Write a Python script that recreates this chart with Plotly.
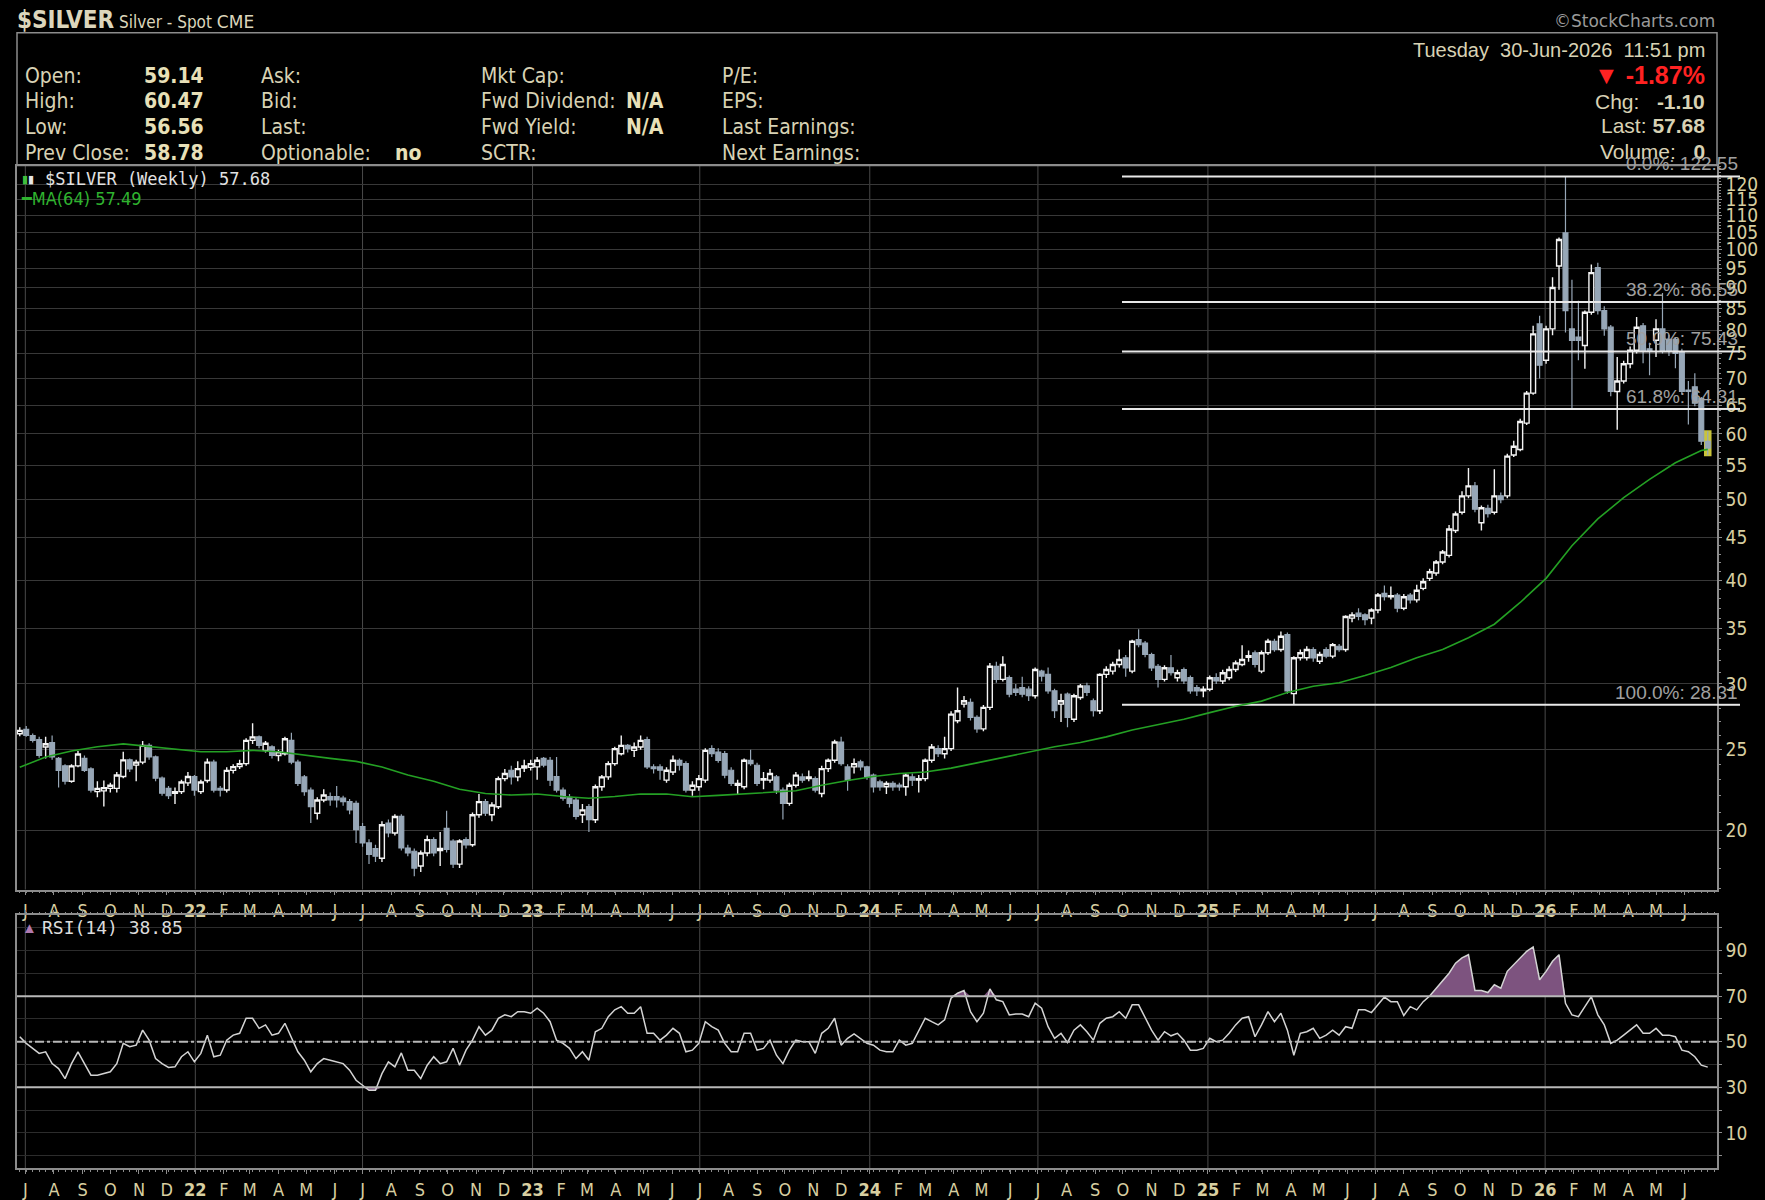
import math

import pandas as pd
import plotly.graph_objects as go

W, H = 1765, 1200
FRAME = "#8c8c8c"
GRID = "#383838"
KHAKI = "#d8cfa0"
TXT = "#d8d2b4"
VAL = "#e8e0b8"
NB = "\u00a0"
COND = "Liberation Sans Narrow, Arial Narrow, DejaVu Sans Condensed, sans-serif"
SANS = "Liberation Sans, Arial, sans-serif"
WIDE = "DejaVu Sans, Verdana, sans-serif"
MONO = "DejaVu Sans Mono, Liberation Mono, monospace"

# one bar per week (weekly $SILVER)
weeks = pd.date_range("2021-06-25", periods=262, freq="7D")

opens = [
    26.12, 26.45, 26.00, 25.70, 25.18, 25.50, 24.40, 23.90, 22.90, 23.90,
    24.40, 23.70, 22.25, 22.30, 22.45, 22.45, 23.20, 24.30, 23.95, 24.15,
    25.30, 24.50, 23.10, 22.45, 22.15, 22.25, 22.80, 23.20, 22.25, 22.95,
    24.15, 22.45, 22.35, 23.60, 23.85, 24.05, 25.65, 25.90, 24.95, 25.20,
    24.60, 24.72, 25.65, 24.15, 23.18, 22.35, 20.96, 21.74, 21.94, 21.94,
    21.85, 21.64, 21.54, 20.20, 19.30, 19.00, 18.50, 20.39, 19.84, 20.77,
    19.03, 18.86, 18.10, 18.77, 19.48, 18.90, 20.10, 19.40, 18.20, 19.48,
    19.20, 20.87, 21.64, 20.87, 21.34, 23.07, 23.61, 23.18, 23.75, 23.80,
    23.83, 24.40, 24.27, 23.20, 22.35, 21.90, 21.74, 20.87, 21.34, 20.58,
    22.55, 23.18, 24.05, 24.72, 25.30, 24.95, 25.18, 25.70, 23.83, 23.83,
    22.97, 23.50, 24.27, 24.05, 22.35, 22.55, 22.97, 25.07, 24.83, 24.72,
    23.61, 22.65, 22.55, 24.27, 23.94, 22.97, 22.97, 23.18, 22.35, 21.54,
    22.65, 23.18, 23.07, 23.07, 22.14, 23.72, 24.27, 25.53, 23.83, 23.83,
    24.16, 23.83, 23.29, 22.86, 22.55, 22.76, 22.65, 22.55, 23.18, 22.97,
    23.07, 24.27, 25.07, 24.72, 25.07, 27.09, 28.36, 28.50, 27.34, 26.48,
    28.11, 31.50, 30.38, 30.52, 29.56, 29.70, 29.56, 29.03, 31.08, 30.80,
    29.43, 28.36, 29.16, 27.20, 28.89, 29.83, 28.63, 27.85, 30.80, 31.08,
    31.66, 32.25, 31.08, 33.92, 33.60, 32.55, 31.50, 30.38, 31.37, 30.52,
    31.22, 30.52, 29.70, 29.43, 29.56, 30.52, 30.24, 30.52, 31.22, 31.66,
    32.30, 32.70, 31.08, 32.70, 33.76, 33.00, 34.39, 29.20, 32.25, 32.25,
    33.00, 31.95, 33.00, 32.40, 33.30, 33.00, 36.00, 36.50, 36.33, 36.00,
    36.83, 38.56, 38.20, 38.39, 37.00, 38.39, 37.87, 39.10, 40.20, 40.80,
    42.07, 42.85, 45.90, 48.30, 50.54, 51.95, 46.90, 48.80, 48.30, 50.54,
    50.54, 56.60, 57.47, 61.84, 67.20, 81.42, 73.60, 80.30, 95.60, 104.80,
    80.30, 78.50, 76.70, 84.10, 95.16, 84.46, 80.68, 67.50, 69.50, 72.90,
    75.67, 81.00, 76.00, 77.80, 80.30, 78.00, 78.00, 75.30, 67.78, 68.40,
    66.20, 58.78,
]
highs = [
    26.60, 26.70, 26.15, 25.90, 25.90, 26.00, 24.50, 24.00, 24.00, 24.90,
    24.60, 23.80, 22.90, 22.95, 22.80, 23.50, 24.85, 24.40, 24.30, 25.60,
    25.45, 24.60, 23.20, 22.60, 22.50, 23.00, 23.50, 23.30, 23.00, 24.40,
    24.30, 22.60, 23.80, 24.00, 24.30, 25.80, 26.90, 26.00, 25.60, 25.30,
    25.00, 25.90, 26.20, 24.30, 23.30, 22.50, 21.90, 22.40, 22.20, 22.60,
    22.00, 21.80, 21.70, 20.40, 19.50, 19.20, 20.50, 20.60, 20.90, 20.90,
    19.20, 19.00, 18.90, 19.70, 19.60, 19.90, 21.10, 19.50, 19.50, 19.60,
    21.00, 22.10, 21.80, 21.60, 23.20, 23.70, 23.90, 24.20, 24.30, 24.30,
    24.50, 24.50, 24.50, 24.50, 22.50, 22.10, 21.90, 21.50, 21.50, 22.70,
    23.30, 24.20, 25.20, 26.00, 25.40, 25.50, 26.00, 25.90, 24.00, 24.00,
    23.80, 24.60, 24.40, 24.20, 22.90, 23.30, 25.10, 25.30, 25.10, 24.90,
    23.80, 23.00, 24.40, 25.00, 24.10, 23.50, 23.70, 23.30, 22.50, 22.80,
    23.50, 23.40, 23.60, 23.20, 23.90, 24.40, 25.70, 25.90, 24.00, 24.40,
    24.30, 23.90, 23.40, 23.00, 22.90, 22.90, 22.80, 23.40, 23.40, 23.30,
    24.40, 25.40, 25.30, 25.90, 27.80, 29.70, 29.00, 28.80, 27.50, 28.30,
    31.80, 31.90, 32.40, 30.70, 30.00, 30.60, 29.80, 31.40, 31.20, 31.40,
    29.60, 29.20, 29.30, 29.20, 30.00, 30.10, 28.80, 30.90, 31.50, 31.90,
    33.00, 32.50, 33.90, 34.90, 33.80, 32.70, 31.70, 31.60, 32.50, 31.20,
    31.40, 30.70, 29.90, 29.80, 30.70, 30.90, 31.20, 31.50, 32.00, 33.40,
    32.90, 32.90, 32.90, 34.00, 34.00, 34.70, 34.60, 32.40, 33.00, 33.30,
    33.20, 32.80, 33.20, 33.60, 33.50, 36.30, 36.60, 37.00, 36.50, 37.00,
    38.60, 39.40, 39.30, 38.60, 38.50, 38.60, 39.50, 40.20, 41.30, 42.30,
    43.50, 46.60, 48.40, 51.20, 54.60, 52.50, 49.20, 49.30, 54.40, 51.00,
    56.80, 58.90, 62.60, 67.60, 81.00, 83.30, 81.00, 92.70, 103.50, 122.55,
    92.00, 86.80, 84.50, 96.00, 96.50, 85.50, 81.20, 74.30, 73.50, 76.50,
    83.00, 81.60, 77.30, 82.50, 88.70, 79.00, 78.50, 76.00, 69.50, 71.00,
    66.50, 60.47,
]
lows = [
    25.95, 25.90, 25.50, 24.45, 24.40, 24.30, 22.50, 22.70, 22.80, 23.80,
    23.50, 22.20, 21.90, 21.35, 22.20, 22.20, 23.10, 23.50, 22.90, 24.00,
    24.30, 22.90, 22.00, 21.80, 21.50, 22.10, 22.60, 22.00, 22.10, 22.80,
    22.20, 21.95, 22.20, 23.40, 23.70, 23.90, 25.40, 25.10, 24.80, 24.40,
    24.20, 24.60, 24.00, 22.60, 22.00, 20.40, 20.60, 21.60, 21.40, 21.30,
    21.40, 20.90, 19.30, 19.10, 18.20, 18.30, 18.30, 19.60, 19.70, 18.90,
    18.60, 17.60, 17.80, 18.60, 18.60, 18.10, 18.80, 18.00, 18.00, 19.00,
    19.10, 20.70, 20.80, 20.50, 21.20, 22.90, 22.70, 22.90, 23.50, 23.60,
    23.00, 23.80, 22.60, 22.20, 21.70, 21.30, 20.60, 20.40, 19.90, 20.40,
    22.30, 23.00, 23.90, 24.60, 24.80, 24.50, 25.00, 23.70, 23.40, 23.00,
    22.80, 23.30, 23.60, 22.20, 22.00, 22.30, 22.80, 24.50, 24.10, 23.10,
    22.60, 22.10, 22.40, 23.90, 22.60, 22.40, 22.80, 22.10, 20.60, 21.40,
    22.50, 22.80, 22.90, 22.20, 21.90, 23.50, 24.10, 23.90, 22.30, 23.40,
    23.60, 23.00, 22.20, 22.30, 22.10, 22.30, 22.30, 22.00, 22.60, 22.20,
    22.90, 24.10, 24.50, 24.40, 24.90, 26.90, 28.10, 27.10, 26.20, 26.30,
    27.90, 30.10, 30.20, 28.90, 29.00, 28.90, 28.60, 28.80, 30.20, 29.20,
    27.30, 27.00, 26.60, 27.00, 28.70, 29.00, 27.40, 27.60, 30.50, 30.80,
    31.40, 30.60, 30.90, 33.20, 32.30, 31.10, 29.70, 30.20, 30.70, 30.20,
    30.00, 29.20, 29.00, 28.90, 29.40, 30.00, 30.00, 30.30, 31.00, 31.50,
    31.90, 31.40, 30.90, 32.50, 32.80, 32.80, 29.20, 28.31, 32.00, 32.00,
    31.90, 31.70, 32.20, 32.20, 32.80, 32.80, 35.60, 35.80, 35.30, 35.40,
    36.50, 37.80, 37.90, 36.60, 36.80, 37.50, 37.60, 38.90, 39.90, 40.50,
    41.80, 42.60, 45.60, 48.00, 50.20, 48.30, 45.90, 47.60, 48.00, 49.50,
    50.20, 56.30, 57.20, 61.50, 66.90, 70.00, 72.90, 78.90, 89.50, 79.50,
    64.15, 73.60, 71.90, 83.50, 83.60, 78.80, 66.60, 60.70, 69.00, 72.00,
    75.00, 73.00, 70.60, 74.30, 75.00, 74.50, 72.00, 67.00, 61.60, 64.80,
    58.20, 56.56,
]
closes = [
    26.37, 26.00, 25.65, 24.60, 25.41, 24.50, 23.60, 22.90, 23.90, 24.70,
    23.60, 22.35, 22.45, 22.50, 22.65, 23.30, 24.30, 23.70, 24.15, 25.30,
    24.50, 23.10, 22.15, 22.00, 22.25, 22.85, 23.20, 22.35, 22.85, 24.15,
    22.35, 22.35, 23.60, 23.85, 24.05, 25.65, 25.90, 25.30, 25.45, 24.60,
    24.85, 25.77, 24.15, 22.76, 22.25, 21.34, 21.74, 22.04, 21.74, 21.74,
    21.64, 21.15, 20.02, 19.30, 18.70, 18.60, 20.30, 19.84, 20.77, 19.03,
    18.77, 18.00, 18.77, 19.48, 18.77, 19.00, 18.95, 18.20, 19.40, 19.20,
    20.87, 21.64, 20.96, 21.44, 23.07, 23.40, 23.18, 23.72, 23.90, 24.05,
    24.27, 23.95, 22.97, 22.35, 21.85, 21.54, 20.77, 21.15, 20.58, 22.55,
    23.18, 24.05, 25.07, 25.30, 25.07, 25.18, 25.65, 23.83, 23.72, 23.61,
    23.61, 24.27, 23.94, 22.35, 22.65, 23.07, 24.95, 24.72, 24.27, 23.29,
    22.76, 22.76, 24.27, 24.05, 22.76, 23.07, 23.40, 22.35, 21.54, 22.65,
    23.29, 22.97, 23.18, 22.35, 23.72, 24.27, 25.53, 24.05, 22.97, 24.05,
    23.83, 23.18, 22.55, 22.55, 22.76, 22.55, 22.55, 23.29, 22.97, 23.07,
    24.27, 25.18, 24.72, 25.07, 27.59, 27.85, 28.63, 27.34, 26.48, 28.11,
    31.50, 30.38, 31.66, 29.16, 29.30, 29.16, 29.03, 31.22, 30.66, 29.43,
    27.85, 28.63, 27.34, 29.03, 29.83, 29.30, 27.85, 30.80, 31.22, 31.66,
    32.10, 31.37, 33.76, 33.45, 32.55, 31.37, 30.38, 31.37, 30.94, 30.94,
    30.24, 29.43, 29.43, 29.56, 30.52, 30.24, 30.94, 31.22, 31.80, 32.10,
    32.45, 31.66, 32.70, 33.76, 33.00, 34.24, 29.43, 32.25, 32.70, 33.00,
    32.25, 32.55, 32.40, 33.45, 33.00, 36.17, 36.33, 36.17, 35.84, 36.83,
    38.39, 38.20, 38.30, 37.00, 38.20, 37.87, 38.90, 39.83, 40.94, 42.07,
    43.25, 46.10, 48.05, 50.54, 51.95, 48.70, 48.90, 48.10, 50.54, 50.00,
    56.42, 58.00, 62.10, 67.20, 79.20, 72.60, 80.30, 90.07, 102.90, 84.46,
    77.80, 77.80, 84.10, 93.86, 84.46, 80.30, 67.50, 69.50, 72.90, 75.67,
    80.68, 75.67, 75.67, 80.30, 75.67, 75.67, 75.00, 67.50, 67.50, 65.34,
    58.80, 57.68,
]

# MA(64) every fourth week
ma_week = list(range(0, 261, 4)) + [261]
ma_vals = [
    23.80, 24.50, 24.90, 25.20, 25.40, 25.20, 25.00, 24.85, 24.85, 24.95,
    24.85, 24.60, 24.40, 24.20, 23.83, 23.30, 22.90, 22.40, 22.14, 22.04,
    22.10, 21.95, 21.85, 21.95, 22.10, 22.10, 21.94, 22.02, 22.10, 22.20,
    22.30, 22.65, 22.95, 23.20, 23.40, 23.50, 23.75, 24.10, 24.45, 24.85,
    25.20, 25.50, 25.90, 26.40, 26.80, 27.20, 27.70, 28.20, 28.60, 29.30,
    29.80, 30.10, 30.70, 31.40, 32.25, 33.00, 34.10, 35.40, 37.60, 40.20,
    44.00, 47.40, 50.30, 52.90, 55.40, 57.30, 57.49,
]

rsi_vals = [
    52.2, 49.3, 47.1, 44.9, 45.6, 40.4, 38.2, 33.8, 40.4, 45.6,
    40.4, 35.3, 35.3, 36.0, 36.8, 40.4, 49.3, 47.8, 48.5, 55.1,
    50.7, 42.6, 40.4, 38.7, 39.0, 43.4, 45.6, 41.2, 44.9, 52.9,
    43.4, 44.1, 50.7, 52.9, 53.7, 60.3, 60.3, 55.9, 57.4, 52.9,
    53.7, 58.1, 51.5, 45.6, 41.9, 36.8, 40.4, 42.6, 41.9, 41.2,
    40.4, 37.5, 33.1, 30.9, 28.7, 28.7, 36.0, 41.2, 39.0, 45.1,
    37.5, 37.5, 33.8, 39.7, 43.4, 40.4, 41.2, 47.1, 39.7, 46.3,
    50.7, 56.6, 52.9, 55.1, 60.3, 61.8, 61.0, 63.2, 63.2, 62.5,
    64.7, 62.5, 58.8, 50.7, 49.3, 47.1, 42.6, 45.6, 41.9, 54.4,
    55.9, 61.0, 64.0, 65.4, 62.5, 62.5, 65.4, 53.7, 53.7, 50.7,
    52.9, 55.9, 53.7, 45.6, 46.3, 49.3, 58.8, 56.6, 55.1, 49.3,
    45.6, 45.6, 53.7, 53.7, 46.3, 47.1, 50.7, 44.1, 40.4, 46.3,
    50.7, 50.0, 50.0, 44.9, 53.7, 55.9, 60.3, 48.5, 51.5, 53.4,
    51.5, 49.3, 48.5, 46.3, 45.6, 45.6, 50.7, 48.5, 49.3, 55.1,
    60.3, 58.8, 57.4, 59.6, 69.1, 71.3, 72.5, 63.2, 58.8, 62.5,
    73.2, 68.4, 67.6, 61.8, 62.2, 62.2, 61.0, 66.9, 64.7, 56.6,
    51.5, 53.7, 49.6, 55.1, 57.4, 54.4, 50.7, 58.1, 60.3, 61.0,
    63.2, 60.3, 66.2, 66.2, 60.3, 55.1, 50.7, 54.4, 52.6, 53.7,
    50.7, 46.3, 46.3, 47.1, 51.5, 50.0, 50.7, 53.7, 57.4, 60.3,
    61.0, 52.2, 57.4, 63.2, 58.8, 62.5, 55.1, 44.1, 53.7, 54.4,
    55.9, 51.5, 52.9, 55.1, 52.9, 56.6, 55.9, 64.0, 64.0, 62.8,
    66.2, 69.6, 67.6, 67.6, 61.5, 65.4, 64.0, 67.6, 70.1, 73.5,
    77.2, 80.1, 84.5, 86.8, 88.2, 72.5, 72.5, 71.6, 75.0, 73.5,
    80.9, 83.8, 86.8, 89.7, 91.6, 77.2, 80.9, 85.3, 88.2, 66.9,
    61.8, 61.0, 65.4, 69.8, 61.8, 57.4, 49.3, 50.7, 52.9, 55.1,
    57.4, 53.7, 53.7, 55.9, 52.9, 52.9, 52.2, 46.3, 45.6, 43.4,
    39.7, 38.85,
]

fib_levels = [122.55, 86.55, 75.43, 64.31, 28.31]
fib_labels = ["0.0%: 122.55", "38.2%: 86.55", "50.0%: 75.43", "61.8%: 64.31", "100.0%: 28.31"]
fib_start = "2024-09-30"

price_ticks = [20, 25, 30, 35, 40, 45, 50, 55, 60, 65, 70, 75, 80, 85, 90, 95, 100, 105, 110, 115, 120]
rsi_ticks = [0, 10, 20, 30, 40, 50, 60, 70, 80, 90, 100]
rsi_tick_text = ["", "10", "", "30", "", "50", "", "70", "", "90", ""]
month_letters = ["J", "F", "M", "A", "M", "J", "J", "A", "S", "O", "N", "D"]


def px(x):
    return x / W


def py(y):
    return 1 - y / H


X_DOM = [px(17), px(1717)]
Y_MAIN = [py(897), py(167)]
Y_RSI = [py(1178), py(923)]
X_RANGE = ["2021-06-22", "2026-07-06"]
P_RANGE = [math.log10(16.96), math.log10(126.3)]
R_RANGE = [-5.5, 105.5]

month_starts = pd.date_range("2021-07-01", "2026-06-01", freq="MS")
month_text = [f"<b>{d.year % 100}</b>" if d.month == 1 else month_letters[d.month - 1]
              for d in month_starts]
half_years = pd.date_range("2021-07-01", "2026-01-01", freq="6MS")

fig = go.Figure()

# Fibonacci retracement lines
for lvl in fib_levels:
    fig.add_trace(go.Scatter(x=[fib_start, X_RANGE[1]], y=[lvl, lvl], mode="lines",
                             line=dict(color="#e8e8e8", width=2), xaxis="x", yaxis="y"))

# highlight of the current bar
fig.add_trace(go.Bar(x=[weeks[-1]], y=[highs[-1] - lows[-1]], base=[lows[-1]],
                     width=[6 * 86400000], marker=dict(color="#c9c43a", line=dict(color="#c9c43a", width=2)),
                     xaxis="x", yaxis="y"))

fig.add_trace(go.Candlestick(
    x=weeks, open=opens, high=highs, low=lows, close=closes,
    increasing=dict(line=dict(color="#f4f4f4", width=1.4), fillcolor="#000000"),
    decreasing=dict(line=dict(color="#97a7b7", width=1.2), fillcolor="#97a7b7"),
    whiskerwidth=0, xaxis="x", yaxis="y"))

fig.add_trace(go.Scatter(x=[weeks[i] for i in ma_week], y=ma_vals, mode="lines",
                         line=dict(color="#24a024", width=1.6), xaxis="x", yaxis="y"))

# RSI panel: overbought / oversold shading
n = len(rsi_vals)
fig.add_trace(go.Scatter(x=weeks, y=[70] * n, mode="lines", line=dict(width=0),
                         xaxis="x2", yaxis="y2"))
fig.add_trace(go.Scatter(x=weeks, y=[max(v, 70) for v in rsi_vals], mode="lines", line=dict(width=0),
                         fill="tonexty", fillcolor="#7d537f", xaxis="x2", yaxis="y2"))
fig.add_trace(go.Scatter(x=weeks, y=[30] * n, mode="lines", line=dict(width=0),
                         xaxis="x2", yaxis="y2"))
fig.add_trace(go.Scatter(x=weeks, y=[min(v, 30) for v in rsi_vals], mode="lines", line=dict(width=0),
                         fill="tonexty", fillcolor="#7d537f", xaxis="x2", yaxis="y2"))
fig.add_trace(go.Scatter(x=weeks, y=rsi_vals, mode="lines", line=dict(color="#d4d4d4", width=1.5),
                         xaxis="x2", yaxis="y2"))

shapes = []
for d in half_years:
    for dom in (Y_MAIN, Y_RSI):
        shapes.append(dict(type="line", xref="x", yref="paper", x0=d, x1=d, y0=dom[0], y1=dom[1],
                           line=dict(color="#4a4a4a", width=1), layer="below"))
# header box
shapes.append(dict(type="rect", xref="paper", yref="paper", x0=px(17), x1=px(1717), y0=py(167), y1=py(33),
                   line=dict(color=FRAME, width=1.5)))
# RSI reference levels
for lvl, dash in ((70, "solid"), (30, "solid"), (50, "dashdot")):
    shapes.append(dict(type="line", xref="paper", yref="y2", x0=X_DOM[0], x1=X_DOM[1], y0=lvl, y1=lvl,
                       line=dict(color="#b8b8b8", width=2, dash=dash)))
# fib lines run a little past the price axis
for lvl in fib_levels:
    yp = Y_MAIN[0] + (math.log10(lvl) - P_RANGE[0]) / (P_RANGE[1] - P_RANGE[0]) * (Y_MAIN[1] - Y_MAIN[0])
    shapes.append(dict(type="line", xref="paper", yref="paper", x0=X_DOM[1], x1=px(1740), y0=yp, y1=yp,
                       line=dict(color="#e8e8e8", width=2)))


def note(x, y, text, size=21, color=TXT, family=COND, xanchor="left", yanchor="middle"):
    return dict(x=px(x), y=py(y), xref="paper", yref="paper", text=text, showarrow=False,
                xanchor=xanchor, yanchor=yanchor, font=dict(size=size, color=color, family=family))


ann = [
    note(15, 20, "<span style='font-size:24px'><b>$SILVER</b></span> Silver - Spot "
                 "<span style='font-family:DejaVu Sans'>CME</span>", size=17, color="#dcd6bc"),
    note(1717, 21, "©StockCharts.com", size=17, color="#9a9a9a", family=WIDE, xanchor="right"),
]
rows = [77, 102, 128, 154]
col1 = [("Open:", "59.14"), ("High:", "60.47"), ("Low:", "56.56"), ("Prev Close:", "58.78")]
for y, (lab, v) in zip(rows, col1):
    ann.append(note(23, y, lab))
    ann.append(note(142, y, f"<b>{v}</b>", color=VAL))
for y, lab in zip(rows, ["Ask:", "Bid:", "Last:", "Optionable:"]):
    ann.append(note(259, y, lab))
ann.append(note(393, rows[3], "<b>no</b>", color=VAL))
for y, lab in zip(rows, ["Mkt Cap:", "Fwd Dividend:", "Fwd Yield:", "SCTR:"]):
    ann.append(note(479, y, lab))
ann.append(note(624, rows[1], "<b>N/A</b>", color=VAL))
ann.append(note(624, rows[2], "<b>N/A</b>", color=VAL))
for y, lab in zip(rows, ["P/E:", "EPS:", "Last Earnings:", "Next Earnings:"]):
    ann.append(note(720, y, lab))

ann += [
    note(1707, 50, f"Tuesday{NB}{NB}30-Jun-2026{NB}{NB}11:51{NB}pm", size=20, family=SANS, xanchor="right"),
    note(1707, 76, f"<b>▼{NB}-1.87%</b>", size=25, color="#ff2222", family=SANS, xanchor="right"),
    note(1707, 102, f"Chg:{NB}{NB}{NB}<b>-1.10</b>", size=21, family=SANS, xanchor="right"),
    note(1707, 127, f"Last:{NB}<b>57.68</b>", size=21, family=SANS, xanchor="right"),
    note(1707, 153, f"Volume:{NB}{NB}{NB}<b>0</b>", size=21, family=SANS, xanchor="right"),
    note(20, 181, "<span style='color:#3fbf3f'>▮</span><span style='color:#e6e6e6'>▮</span>",
         size=11, family=SANS),
    note(43, 181, "$SILVER (Weekly) 57.68", size=17, color="#e2e2e2", family=MONO),
    note(19, 200, "━MA(64) 57.49", size=18, color="#2fb32f"),
    note(20, 935, "▲", size=15, color="#b07ab0", family=SANS),
    note(40, 935, "RSI(14) 38.85", size=18, color="#dcdcdc", family=MONO),
]
for lvl, lab in zip(fib_levels, fib_labels):
    ann.append(dict(x=px(1740), y=math.log10(lvl), xref="paper", yref="y", text=lab, showarrow=False,
                    xanchor="right", yanchor="bottom", font=dict(size=19, color="#a0a0a0", family=SANS)))

tickfont = dict(family=COND, size=18, color=KHAKI)
xcommon = dict(type="date", range=X_RANGE, domain=X_DOM, showgrid=False, zeroline=False,
               tickmode="array", tickvals=month_starts, ticktext=month_text, ticks="outside",
               ticklen=4, tickcolor=FRAME, tickfont=tickfont, showline=True, linecolor=FRAME,
               linewidth=1.5, rangeslider=dict(visible=False),
               minor=dict(tickmode="linear", tick0="2021-06-25", dtick=7 * 86400000, ticks="outside",
                          ticklen=2, tickcolor=FRAME, showgrid=False))

fig.update_layout(
    width=W, height=H, margin=dict(l=0, r=0, t=0, b=0),
    paper_bgcolor="#000000", plot_bgcolor="#000000",
    showlegend=False, hovermode=False, boxgap=0.25, boxgroupgap=0,
    xaxis=dict(anchor="y", mirror=True, **xcommon),
    xaxis2=dict(anchor="y2", mirror="ticks", **xcommon),
    yaxis=dict(domain=Y_MAIN, anchor="x", type="log", range=P_RANGE, side="right",
               tickmode="array", tickvals=price_ticks, ticktext=[str(v) for v in price_ticks],
               showgrid=True, gridcolor=GRID, ticks="outside", ticklen=3, tickcolor=FRAME,
               tickfont=dict(family=COND, size=19, color=KHAKI), showline=True, linecolor=FRAME,
               linewidth=1.5, mirror=True, zeroline=False,
               minor=dict(tickmode="array", tickvals=list(range(17, 127)), ticks="outside",
                          ticklen=2, tickcolor=FRAME, showgrid=False)),
    yaxis2=dict(domain=Y_RSI, anchor="x2", range=R_RANGE, side="right",
                tickmode="array", tickvals=rsi_ticks, ticktext=rsi_tick_text,
                showgrid=True, gridcolor="#2c2c2c", ticks="outside", ticklen=3, tickcolor=FRAME,
                tickfont=dict(family=COND, size=19, color=KHAKI), showline=True, linecolor=FRAME,
                linewidth=1.5, mirror=True, zeroline=False),
    shapes=shapes,
    annotations=ann,
)

# drop the browser's default page margin so the figure sits at the window corner
fig.write_html("out.html", config={"displayModeBar": False},
               post_script="document.body.style.margin='0';document.body.style.background='#000';")
